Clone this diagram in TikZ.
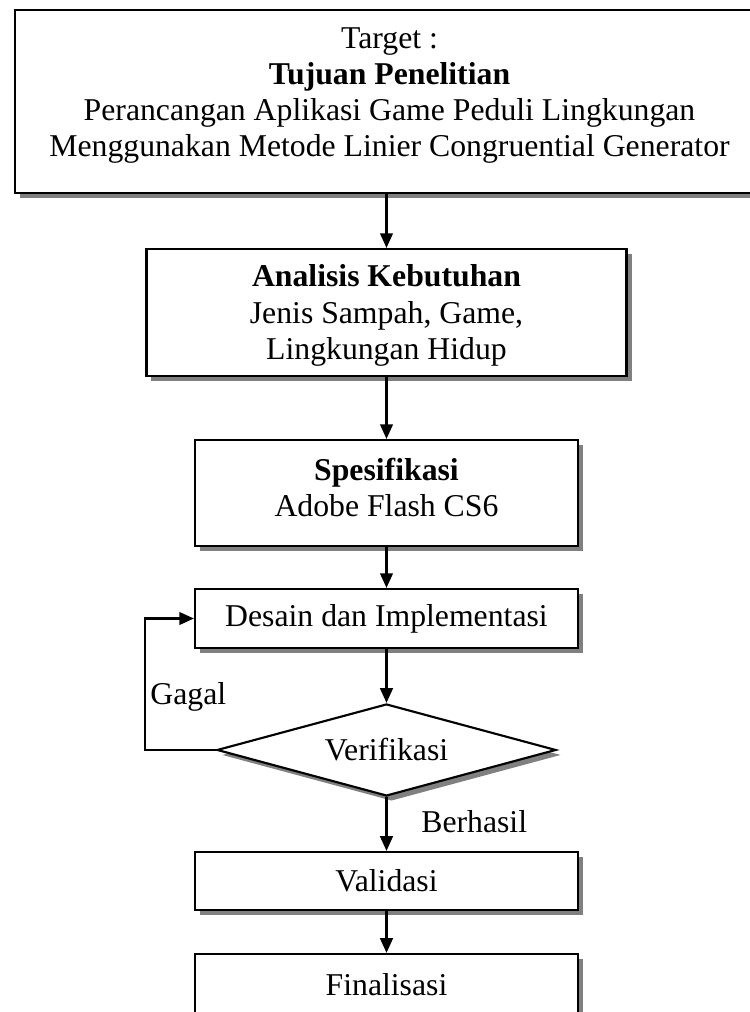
\documentclass[tikz,border=0pt]{standalone}
\usepackage{fontspec}
\setmainfont{Liberation Serif}
\usetikzlibrary{shapes.geometric,shadows,arrows.meta}

\tikzset{
  kotak/.style={draw, rectangle, fill=white, align=center,
    minimum width=287.25pt,
    drop shadow={shadow xshift=3.75pt, shadow yshift=-3.75pt, fill=black!50, opacity=1}},
  belah/.style={draw, diamond, fill=white, shape aspect=3.7, inner sep=0pt,
    minimum width=254.25pt, minimum height=69pt,
    drop shadow={shadow xshift=3.75pt, shadow yshift=-3.75pt, fill=black!50, opacity=1}}
}

\begin{document}
\begin{tikzpicture}[->,>={Triangle[length=11pt,width=9.5pt]},line width=1.6pt,
    font=\fontsize{23.8}{27.2}\selectfont]

    \useasboundingbox (-292.125pt,76.125pt) rectangle (269.625pt,-682.875pt);

    % node-node alur
    \node[kotak, minimum width=561.75pt, minimum height=137.6pt] (tujuan) {Target :\\
        \textbf{Tujuan Penelitian}\\
        Perancangan Aplikasi Game Peduli Lingkungan\\
        Menggunakan Metode Linier Congruential Generator\rule[-14.2pt]{0pt}{0pt}};
    \node[kotak, minimum width=360pt, minimum height=95.25pt] (analisis)
        [below of=tujuan, node distance=158.25pt, xshift=-2.25pt]
        {\rule{0pt}{21pt}\textbf{Analisis Kebutuhan}\\ Jenis Sampah, Game,\\ Lingkungan Hidup};
    \node[kotak, minimum height=79.5pt] (spesifikasi) [below of=analisis, node distance=135.4pt]
        {\textbf{Spesifikasi}\\ Adobe Flash CS6\rule[-8.6pt]{0pt}{0pt}};
    \node[kotak, minimum height=44.25pt] (desain) [below of=spesifikasi, node distance=94.1pt]
        {Desain dan Implementasi};
    \node[belah] (verifikasi) [below of=desain, node distance=98.6pt] {Verifikasi};
    \node[kotak, minimum height=43.5pt] (validasi) [below of=verifikasi, node distance=98.25pt]
        {Validasi};
    \node[kotak, minimum height=46.5pt] (finalisasi) [below of=validasi, node distance=78pt]
        {Finalisasi};

    % panah
    \draw (tujuan.south -| analisis.north) -- (analisis.north);
    \draw (analisis) -- (spesifikasi);
    \draw (spesifikasi) -- (desain);
    \draw (desain) -- (verifikasi);
    \draw (verifikasi) -- node[right, xshift=22pt, pos=0.45] (berhasil) {Berhasil} (validasi);
    \draw (validasi) -- (finalisasi);

    % kembali jika gagal
    \draw (verifikasi.west) -- ++(-53.25pt,0) |- node[right, pos=0.2] (gagal) {Gagal} (desain.west);

\end{tikzpicture}
\end{document}
